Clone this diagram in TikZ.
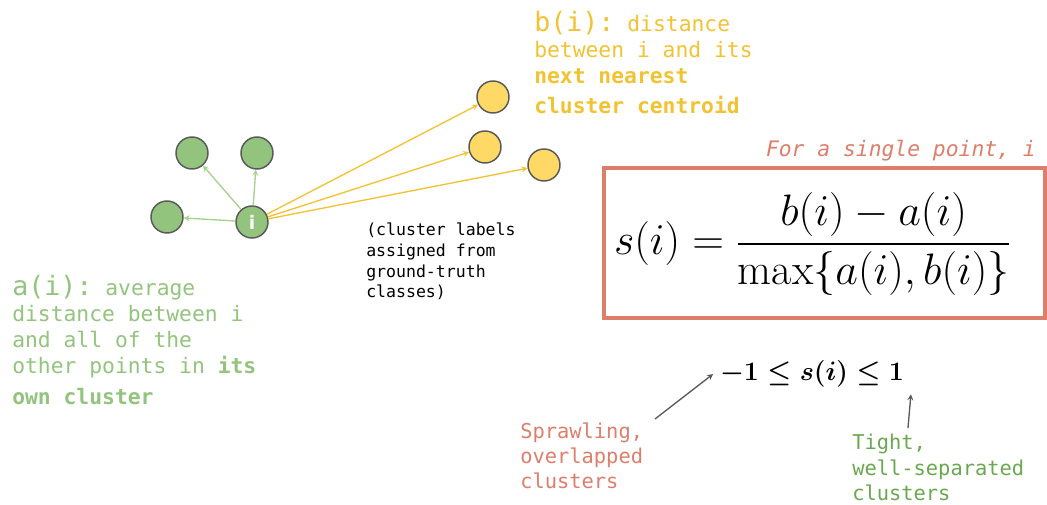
\RequirePackage{fix-cm}
\documentclass[tikz,border=0pt]{standalone}
\usepackage{amsmath,amssymb}
\usepackage{fontspec}
\setmonofont{DejaVu Sans Mono}
\setsansfont{DejaVu Sans}
\usetikzlibrary{arrows,positioning,calc}
\definecolor{owngreen}{HTML}{93C47D}
\definecolor{tightgreen}{HTML}{6AA84F}
\definecolor{arrowgreen}{HTML}{A8D08D}
\definecolor{nextyellow}{HTML}{FFD966}
\definecolor{textyellow}{HTML}{F1C232}
\definecolor{boxred}{HTML}{DD7E6B}

\begin{document}
\begin{tikzpicture}[x=0.75pt,y=-0.75pt,>=stealth,
    own/.style={circle,draw=black!65,fill=owngreen,line width=1.1pt,minimum size=24pt,inner sep=0pt},
    other/.style={own,fill=nextyellow},
    mono/.style={font=\ttfamily\fontsize{16}{19.5}\selectfont,inner sep=0pt,align=left,anchor=north west}]
  \useasboundingbox (0,0) rectangle (1047,505);
  % points of the own cluster and of the next cluster
  \node[own] (Gi) at (252,222) {\sffamily\bfseries\fontsize{14}{14}\selectfont\color{white}i};
  \node[own] (G1) at (192,153) {};
  \node[own] (G2) at (257,153) {};
  \node[own] (G3) at (167,217) {};
  \node[other] (Y1) at (493,97) {};
  \node[other] (Y2) at (485,147) {};
  \node[other] (Y3) at (544,165) {};
  \draw[->,arrowgreen,line width=1pt] (Gi) -- (G1);
  \draw[->,arrowgreen,line width=1pt] (Gi) -- (G2);
  \draw[->,arrowgreen,line width=1pt] (Gi) -- (G3);
  \draw[->,textyellow,line width=1pt] (Gi) -- (Y1);
  \draw[->,textyellow,line width=1pt] (Gi) -- (Y2);
  \draw[->,textyellow,line width=1pt] (Gi) -- (Y3);
  % explanations
  \node[mono,text=textyellow] (bi) at (534,11)
    {{\fontsize{20}{24}\selectfont b(i):} distance\\
     between i and its\\
     \textbf{next nearest}\\[3pt]
     \textbf{cluster centroid}};
  \node[mono,text=owngreen] (ai) at (12,275)
    {{\fontsize{20}{24}\selectfont a(i):} average\\
     distance between i\\
     and all of the\\
     other points in \textbf{its}\\[4pt]
     \textbf{own cluster}};
  \node[mono,font=\ttfamily\fontsize{12.4}{15.5}\selectfont] (note) at (366,223)
    {(cluster labels\\
     assigned from\\
     ground-truth\\
     classes)};
  \node[font=\ttfamily\itshape\fontsize{16}{19}\selectfont,text=boxred,inner sep=0pt,anchor=base east] (single) at (1036,157)
    {For a single point, i};
  % silhouette formula
  \node[draw=boxred,line width=2.6pt,minimum width=330.75pt,minimum height=112.5pt] (box) at (824.5,243) {};
  \node (sil) at (812.5,244)
    {\fontsize{33}{40}\selectfont $\displaystyle s(i)=\frac{b(i)-a(i)}{\max\{a(i),b(i)\}}$};
  \node[inner sep=5pt] (range) at (812,374)
    {\fontsize{20}{24}\selectfont $\boldsymbol{-1\le s(i)\le 1}$};
  \node[mono,font=\ttfamily\fontsize{15.3}{18.6}\selectfont,text=boxred] (sprawl) at (520,423)
    {Sprawling,\\
     overlapped\\
     clusters};
  \node[mono,font=\ttfamily\fontsize{15.3}{19}\selectfont,text=tightgreen] (tight) at (852,434)
    {Tight,\\
     well-separated\\
     clusters};
  \coordinate (sprawlTail) at (655,419);
  \coordinate (tightTail) at (908,428);
  \draw[->,black!65,line width=1pt] (sprawlTail) -- (range.west);
  \draw[->,black!65,line width=1pt] (tightTail) -- (range.south east);
\end{tikzpicture}
\end{document}
